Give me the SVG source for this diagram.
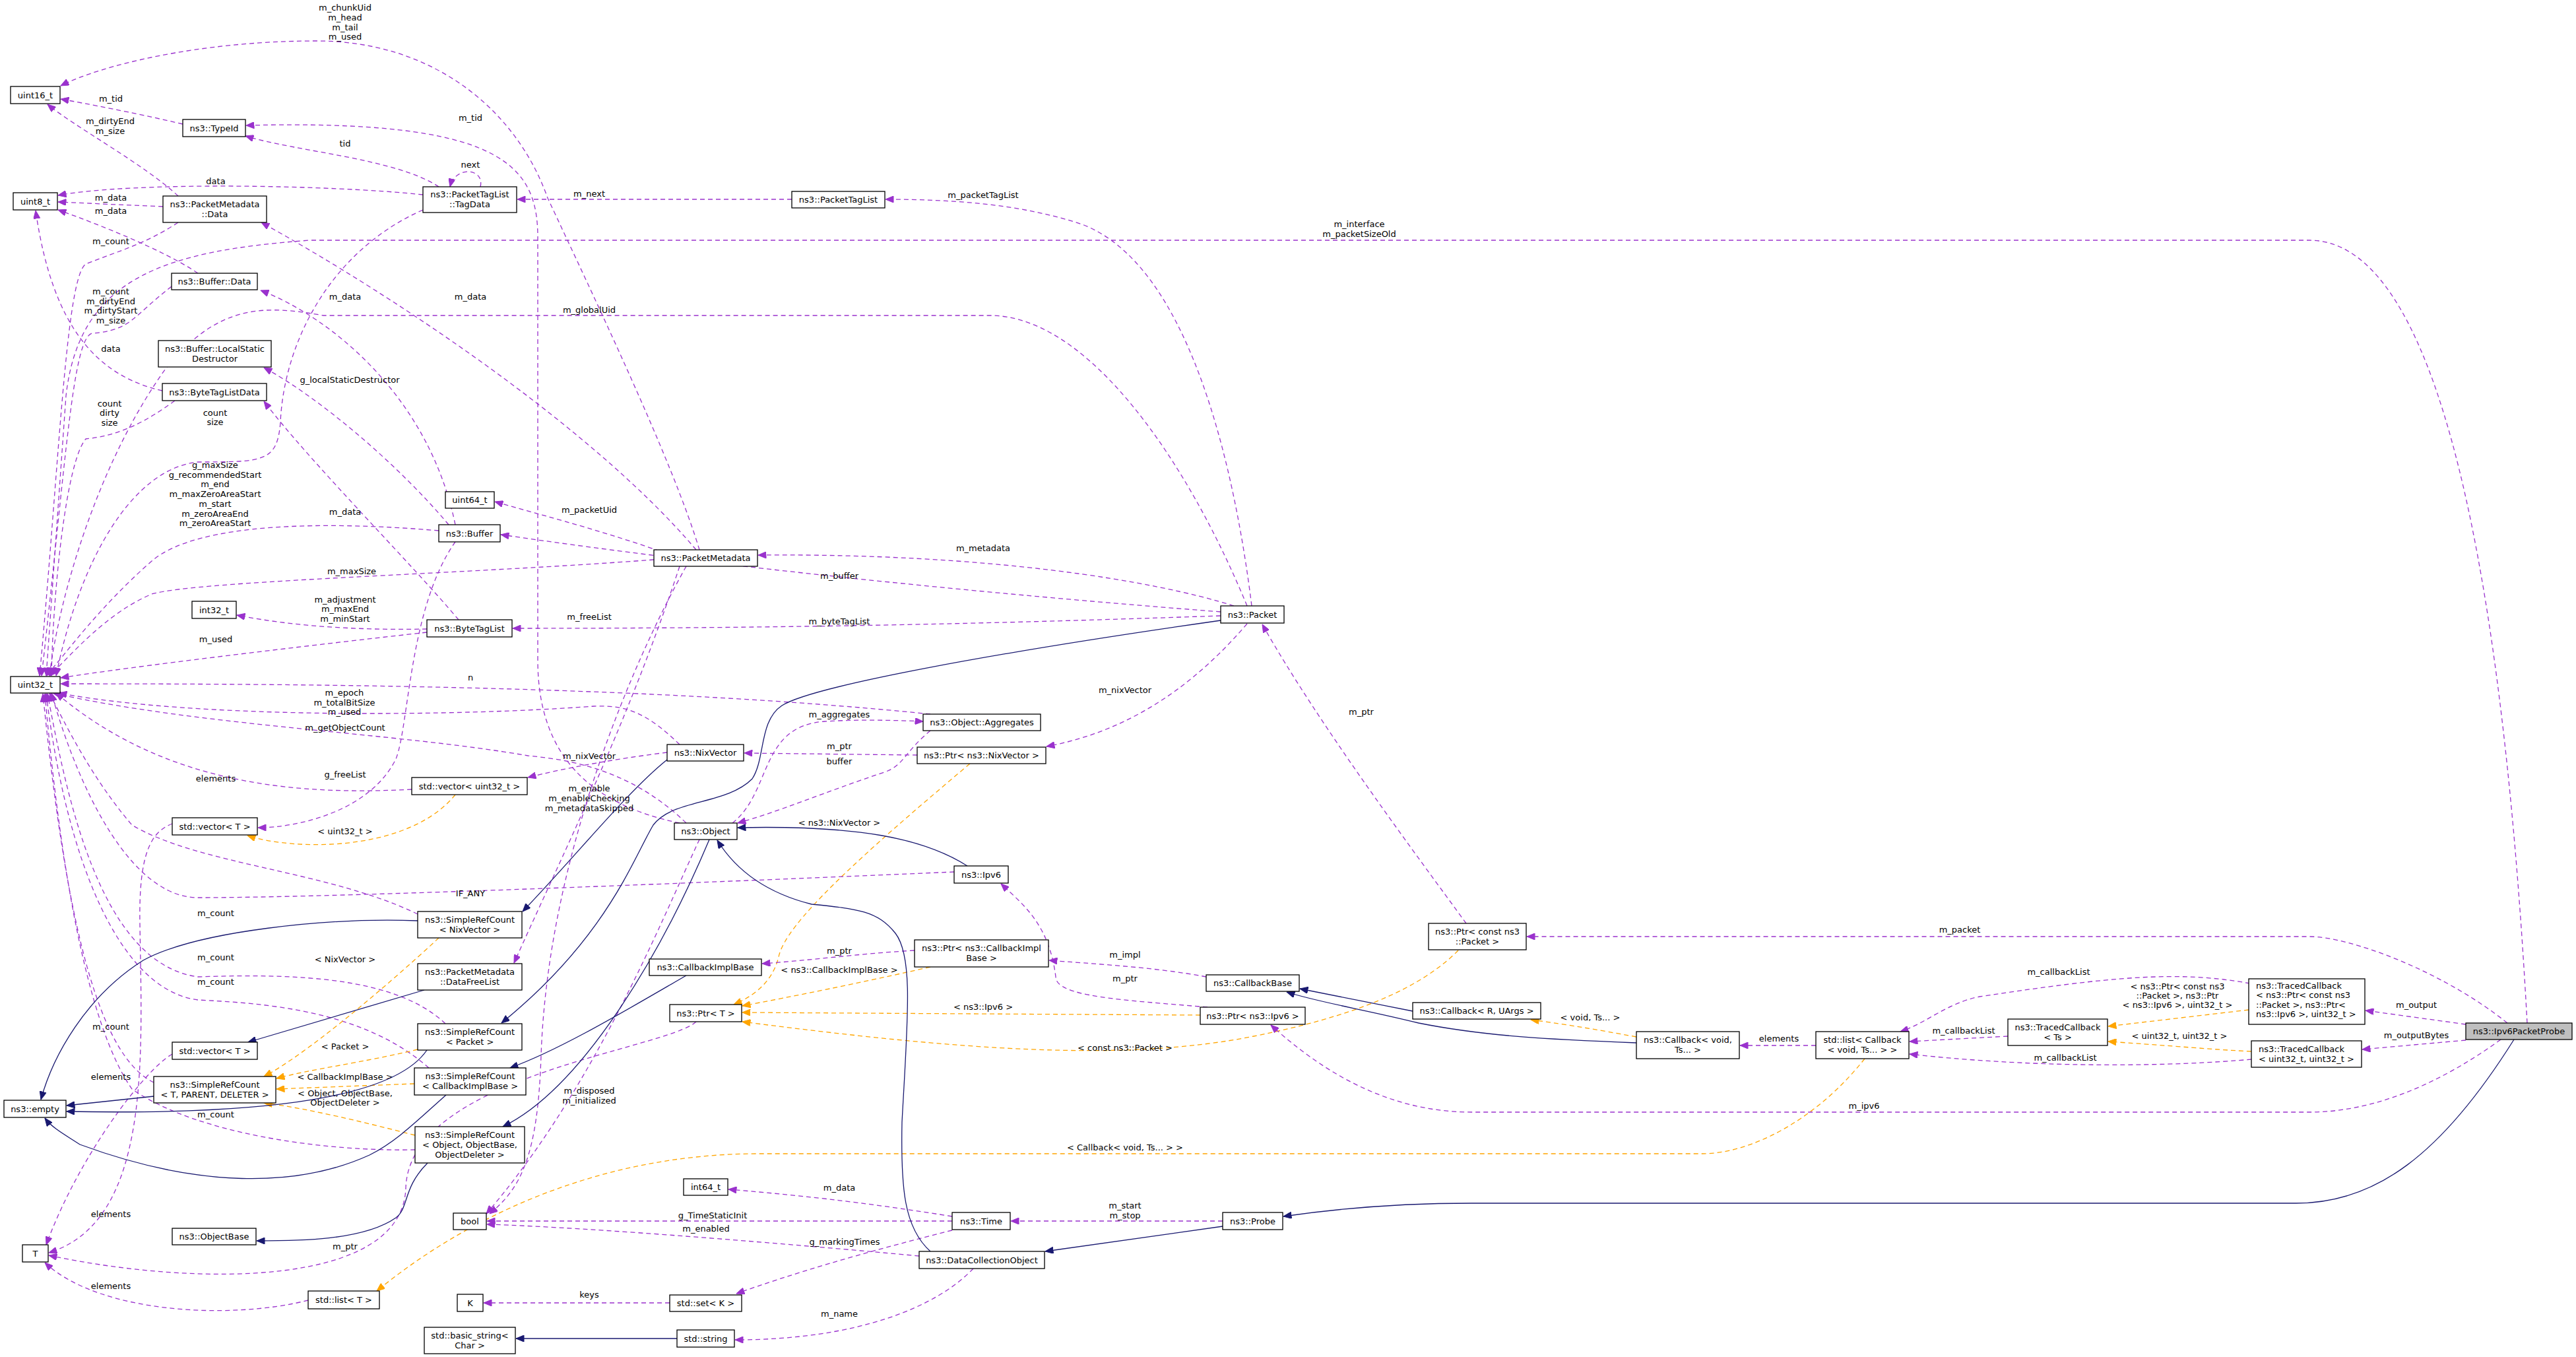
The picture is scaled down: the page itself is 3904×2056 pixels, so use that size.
<svg xmlns="http://www.w3.org/2000/svg" width="3904" height="2056" viewBox="0 0 3904 2056">
<style>
text{font-family:"DejaVu Sans","Liberation Sans",sans-serif;font-size:13px;fill:#000}
.n rect{fill:#fff;stroke:#000;stroke-width:1.3}
.n text{text-anchor:middle}
.n text.s{text-anchor:start}
.u{fill:none;stroke:#9a32cd;stroke-width:1.3;stroke-dasharray:7,5;marker-end:url(#mp)}
.o{fill:none;stroke:#ffa500;stroke-width:1.3;stroke-dasharray:7,5;marker-end:url(#mo)}
.i{fill:none;stroke:#191970;stroke-width:1.3;marker-end:url(#mi)}
.l{text-anchor:middle}
</style>
<defs>
<marker id="mp" viewBox="0 0 12 10" refX="12" refY="5" markerWidth="13" markerHeight="10" markerUnits="userSpaceOnUse" orient="auto"><path d="M0,0 L12,5 L0,10 z" fill="#9a32cd" stroke="#9a32cd"/></marker>
<marker id="mo" viewBox="0 0 12 10" refX="12" refY="5" markerWidth="13" markerHeight="10" markerUnits="userSpaceOnUse" orient="auto"><path d="M0,0 L12,5 L0,10 z" fill="#ffa500" stroke="#ffa500"/></marker>
<marker id="mi" viewBox="0 0 12 10" refX="12" refY="5" markerWidth="13" markerHeight="10" markerUnits="userSpaceOnUse" orient="auto"><path d="M0,0 L12,5 L0,10 z" fill="#191970" stroke="#191970"/></marker>
</defs>
<rect width="3904" height="2056" fill="#fff"/>
<g id="edges">
<path class="u" d="M1060,833 C1020,700 900,450 830,300 C780,160 650,62 480,62 C300,62 150,100 92,130"/>
<text class="l" x="523" y="16">m_chunkUid</text><text class="l" x="523" y="31">m_head</text><text class="l" x="523" y="46">m_tail</text><text class="l" x="523" y="60">m_used</text>
<path class="u" d="M277,188 C200,170 130,157 92,150"/><text class="l" x="168" y="154">m_tid</text>
<path class="u" d="M270,297 C220,250 110,190 72,158"/><text class="l" x="167" y="188">m_dirtyEnd</text><text class="l" x="167" y="203">m_size</text>
<path class="u" d="M1030,1247 C900,1220 815,1150 815,1000 L815,360 C815,250 760,180 373,190"/><text class="l" x="713" y="183">m_tid</text>
<path class="u" d="M665,283 C600,240 450,230 372,206"/><text class="l" x="523" y="222">tid</text>
<path class="u" d="M728,283 C735,255 690,250 682,283"/><text class="l" x="713" y="254">next</text>
<path class="u" d="M641,295 C500,280 200,275 88,296"/><text class="l" x="327" y="279">data</text>
<path class="u" d="M1200,302 L784,302"/><text class="l" x="893" y="298">m_next</text>
<path class="u" d="M247,313 L88,306"/><text class="l" x="168" y="304">m_data</text>
<path class="u" d="M300,414 C250,380 150,340 88,318"/><text class="l" x="168" y="324">m_data</text>
<path class="u" d="M246,592 C150,570 80,500 54,319"/><text class="l" x="168" y="533">data</text>
<path class="u" d="M1897,918 C1870,700 1800,400 1640,340 C1550,310 1450,302 1342,302"/><text class="l" x="1490" y="300">m_packetTagList</text>
<path class="u" d="M3830,1550 C3800,1000 3720,364 3500,364 L470,364 C250,380 120,420 100,600 L70,1024"/><text class="l" x="2060" y="344">m_interface</text><text class="l" x="2060" y="359">m_packetSizeOld</text>
<path class="u" d="M1890,918 C1800,700 1650,478 1500,478 L490,478 C400,462 330,460 250,560 C150,700 90,900 75,1024"/><text class="l" x="893" y="474">m_globalUid</text>
<path class="u" d="M1870,918 C1750,880 1500,838 1149,841"/><text class="l" x="1490" y="835">m_metadata</text>
<path class="u" d="M1850,927 C1500,900 1100,860 759,810"/><text class="l" x="1272" y="877">m_buffer</text>
<path class="u" d="M1850,933 C1500,945 1200,952 777,952"/><text class="l" x="1272" y="946">m_byteTagList</text>
<path class="u" d="M1000,835 C900,800 800,775 750,760"/><text class="l" x="893" y="777">m_packetUid</text>
<path class="u" d="M1055,833 C900,650 600,450 396,337"/><text class="l" x="713" y="454">m_data</text>
<path class="u" d="M690,795 C650,600 500,480 395,440"/><text class="l" x="523" y="454">m_data</text>
<path class="u" d="M680,795 C600,700 480,600 400,557"/><text class="l" x="530" y="580">g_localStaticDestructor</text>
<path class="u" d="M665,804 C500,790 300,790 230,850 C150,920 100,990 70,1024"/>
<text class="l" x="326" y="709">g_maxSize</text><text class="l" x="326" y="724">g_recommendedStart</text><text class="l" x="326" y="738">m_end</text><text class="l" x="326" y="753">m_maxZeroAreaStart</text><text class="l" x="326" y="768">m_start</text><text class="l" x="326" y="783">m_zeroAreaEnd</text><text class="l" x="326" y="797">m_zeroAreaStart</text>
<path class="u" d="M690,821 C620,920 620,1100 600,1150 C560,1230 450,1254 391,1254"/><text class="l" x="523" y="1178">g_freeList</text>
<path class="u" d="M695,939 C620,850 470,700 400,608"/><text class="l" x="523" y="780">m_data</text>
<path class="u" d="M647,953 C550,955 450,950 359,932"/><text class="l" x="523" y="913">m_adjustment</text><text class="l" x="523" y="927">m_maxEnd</text><text class="l" x="523" y="942">m_minStart</text>
<path class="u" d="M647,958 C450,980 200,1010 92,1027"/><text class="l" x="327" y="973">m_used</text>
<path class="u" d="M991,848 C700,870 300,880 230,900 C160,930 110,990 75,1024"/><text class="l" x="533" y="870">m_maxSize</text>
<path class="u" d="M1030,858 C950,1100 850,1300 779,1459"/><text class="l" x="893" y="939">m_freeList</text>
<path class="u" d="M1410,1082 C1000,1040 500,1036 92,1036"/><text class="l" x="713" y="1031">n</text>
<path class="u" d="M1030,1128 C980,1080 950,1068 900,1070 C700,1085 300,1090 89,1050"/><text class="l" x="522" y="1054">m_epoch</text><text class="l" x="522" y="1069">m_totalBitSize</text><text class="l" x="522" y="1083">m_used</text>
<path class="u" d="M1040,1247 C950,1160 850,1150 800,1145 C600,1110 300,1100 80,1050"/><text class="l" x="523" y="1107">m_getObjectCount</text>
<path class="u" d="M624,1196 C450,1205 250,1190 85,1050"/><text class="l" x="327" y="1184">elements</text>
<path class="o" d="M690,1204 C620,1290 450,1290 375,1266"/><text class="l" x="523" y="1264">&lt; uint32_t &gt;</text>
<path class="u" d="M1011,1140 C930,1150 850,1165 800,1178"/><text class="l" x="893" y="1150">m_nixVector</text>
<path class="u" d="M1890,945 C1800,1050 1700,1110 1586,1131"/><text class="l" x="1705" y="1050">m_nixVector</text>
<path class="u" d="M1390,1144 L1128,1141"/><text class="l" x="1272" y="1135">m_ptr</text>
<path class="u" d="M1110,1247 C1170,1200 1150,1100 1250,1093 C1300,1090 1350,1091 1399,1093"/><text class="l" x="1272" y="1087">m_aggregates</text>
<path class="u" d="M1410,1107 C1370,1140 1370,1160 1340,1170 C1250,1200 1180,1230 1118,1247"/><text class="l" x="1272" y="1158">buffer</text>
<path class="o" d="M1470,1157 C1300,1300 1190,1400 1180,1450 C1170,1490 1140,1510 1112,1522"/><text class="l" x="1272" y="1251">&lt; ns3::NixVector &gt;</text>
<path class="u" d="M1446,1321 C1000,1340 500,1360 300,1360 C200,1360 120,1200 78,1050"/><text class="l" x="713" y="1358">IF_ANY</text>
<path class="u" d="M633,1385 C500,1320 300,1310 200,1250 C140,1180 100,1100 75,1050"/><text class="l" x="327" y="1388">m_count</text>
<path class="u" d="M675,1551 C600,1480 450,1475 300,1480 C150,1460 100,1200 72,1051"/><text class="l" x="327" y="1455">m_count</text>
<path class="u" d="M650,1618 C550,1530 400,1520 300,1515 C180,1500 100,1300 70,1051"/><text class="l" x="327" y="1492">m_count</text>
<path class="u" d="M629,1742 C500,1745 300,1720 200,1650 C130,1550 90,1300 68,1051"/><text class="l" x="327" y="1693">m_count</text>
<path class="u" d="M233,1640 C150,1600 100,1400 65,1051"/><text class="l" x="168" y="1560">m_count</text>
<path class="u" d="M260,434 C200,480 200,500 140,505 C110,510 100,700 63,1024"/><text class="l" x="168" y="446">m_count</text><text class="l" x="168" y="461">m_dirtyEnd</text><text class="l" x="168" y="475">m_dirtyStart</text><text class="l" x="168" y="490">m_size</text>
<path class="u" d="M270,337 C220,370 180,380 130,400 C100,420 90,700 60,1024"/><text class="l" x="168" y="370">m_count</text>
<path class="u" d="M265,607 C220,640 180,660 130,665 C100,700 80,900 78,1024"/><text class="l" x="166" y="616">count</text><text class="l" x="166" y="630">dirty</text><text class="l" x="166" y="645">size</text>
<path class="u" d="M641,318 C500,380 430,520 425,640 C420,700 400,700 300,700 C200,710 120,850 85,1024"/><text class="l" x="326" y="630">count</text><text class="l" x="326" y="644">size</text>
<path class="u" d="M261,1597 C220,1620 120,1750 70,1886"/><text class="l" x="168" y="1636">elements</text>
<path class="u" d="M261,1248 C230,1260 210,1290 212,1400 C215,1600 230,1850 74,1898"/><text class="l" x="168" y="1844">elements</text>
<path class="u" d="M467,1970 C350,2000 150,1990 68,1913"/><text class="l" x="168" y="1953">elements</text>
<path class="u" d="M1055,1548 C1010,1590 620,1630 615,1800 C610,1950 300,1950 74,1902"/><text class="l" x="523" y="1893">m_ptr</text>
<path class="u" d="M1060,1272 C1000,1400 900,1650 737,1839"/><text class="l" x="893" y="1657">m_disposed</text><text class="l" x="893" y="1672">m_initialized</text>
<path class="u" d="M1040,858 C960,1000 830,1300 820,1600 C815,1750 790,1800 742,1839"/><text class="l" x="893" y="1199">m_enable</text><text class="l" x="893" y="1214">m_enableChecking</text><text class="l" x="893" y="1229">m_metadataSkipped</text>
<path class="u" d="M1386,1440 C1300,1445 1230,1455 1155,1460"/><text class="l" x="1272" y="1445">m_ptr</text>
<path class="o" d="M1410,1465 C1300,1490 1200,1510 1125,1524"/><text class="l" x="1272" y="1474">&lt; ns3::CallbackImplBase &gt;</text>
<path class="u" d="M1828,1480 C1750,1465 1650,1460 1590,1455"/><text class="l" x="1705" y="1451">m_impl</text>
<path class="u" d="M1830,1526 C1700,1515 1600,1510 1600,1480 C1590,1400 1550,1370 1517,1339"/><text class="l" x="1705" y="1487">m_ptr</text>
<path class="o" d="M1819,1538 L1125,1534"/><text class="l" x="1490" y="1530">&lt; ns3::Ipv6 &gt;</text>
<path class="o" d="M2210,1440 C2150,1500 2050,1540 1900,1570 C1700,1610 1450,1590 1125,1548"/><text class="l" x="1705" y="1592">&lt; const ns3::Packet &gt;</text>
<path class="u" d="M2222,1399 C2150,1300 2000,1100 1913,946"/><text class="l" x="2063" y="1083">m_ptr</text>
<path class="u" d="M3800,1550 C3700,1470 3560,1419 3500,1419 L2314,1419"/><text class="l" x="2970" y="1413">m_packet</text>
<path class="u" d="M1853,1850 L1532,1850"/><text class="l" x="1705" y="1831">m_start</text><text class="l" x="1705" y="1846">m_stop</text>
<path class="u" d="M1443,1843 C1300,1820 1200,1810 1104,1802"/><text class="l" x="1272" y="1804">m_data</text>
<path class="u" d="M1443,1850 L738,1850"/><text class="l" x="1080" y="1846">g_TimeStaticInit</text>
<path class="u" d="M1393,1903 C1200,1885 900,1860 738,1855"/><text class="l" x="1070" y="1866">m_enabled</text>
<path class="u" d="M1443,1864 C1300,1900 1200,1930 1116,1960"/><text class="l" x="1280" y="1886">g_markingTimes</text>
<path class="u" d="M1015,1974 L733,1974"/><text class="l" x="893" y="1966">keys</text>
<path class="u" d="M1475,1922 C1420,1980 1300,2030 1114,2030"/><text class="l" x="1272" y="1995">m_name</text>
<path class="o" d="M2826,1604 C2750,1700 2650,1748 2580,1748 L1150,1748 C900,1748 700,1850 571,1956"/><text class="l" x="1705" y="1743">&lt; Callback&lt; void, Ts... &gt; &gt;</text>
<path class="u" d="M2752,1584 L2637,1584"/><text class="l" x="2696" y="1578">elements</text>
<path class="o" d="M2480,1571 C2420,1560 2380,1553 2320,1545"/><text class="l" x="2410" y="1546">&lt; void, Ts... &gt;</text>
<path class="u" d="M3410,1490 C3300,1470 3200,1480 3000,1510 C2950,1520 2920,1550 2880,1563"/><text class="l" x="3120" y="1477">m_callbackList</text>
<path class="u" d="M3043,1570 L2894,1578"/><text class="l" x="2976" y="1566">m_callbackList</text>
<path class="u" d="M3412,1605 C3300,1615 3100,1620 2894,1597"/><text class="l" x="3130" y="1607">m_callbackList</text>
<path class="o" d="M3408,1530 L3195,1555"/><text class="l" x="3300" y="1499">&lt; ns3::Ptr&lt; const ns3</text><text class="l" x="3300" y="1513">::Packet &gt;, ns3::Ptr</text><text class="l" x="3300" y="1527">&lt; ns3::Ipv6 &gt;, uint32_t &gt;</text>
<path class="o" d="M3412,1593 C3350,1590 3300,1585 3195,1578"/><text class="l" x="3303" y="1574">&lt; uint32_t, uint32_t &gt;</text>
<path class="u" d="M3737,1552 L3585,1531"/><text class="l" x="3662" y="1527">m_output</text>
<path class="u" d="M3737,1576 L3580,1590"/><text class="l" x="3662" y="1573">m_outputBytes</text>
<path class="u" d="M3790,1575 C3700,1640 3600,1685 3500,1685 L2230,1685 C2100,1685 2000,1620 1926,1553"/><text class="l" x="2825" y="1680">m_ipv6</text>
<path class="o" d="M665,1421 C580,1500 460,1600 400,1631"/><text class="l" x="523" y="1458">&lt; NixVector &gt;</text>
<path class="o" d="M633,1590 C550,1610 470,1620 419,1634"/><text class="l" x="523" y="1590">&lt; Packet &gt;</text>
<path class="o" d="M628,1642 L419,1650"/><text class="l" x="523" y="1636">&lt; CallbackImplBase &gt;</text>
<path class="o" d="M629,1720 C550,1700 470,1680 400,1671"/><text class="l" x="523" y="1661">&lt; Object, ObjectBase,</text><text class="l" x="523" y="1675">ObjectDeleter &gt;</text>
<path class="i" d="M1466,1312 C1400,1270 1300,1250 1118,1254"/>
<path class="i" d="M633,1395 C500,1390 300,1410 217,1455 C130,1510 80,1600 62,1666"/>
<path class="i" d="M1011,1151 C950,1200 870,1300 792,1381"/>
<path class="i" d="M1850,940 C1500,990 1230,1040 1185,1069 C1150,1092 1160,1150 1140,1180 C1100,1220 1020,1210 990,1250 C960,1300 920,1420 760,1550"/>
<path class="i" d="M647,1591 C600,1660 420,1690 101,1684"/>
<path class="i" d="M233,1661 L101,1675"/>
<path class="i" d="M676,1659 C630,1700 600,1730 560,1750 C450,1800 300,1800 121,1734 C100,1720 80,1710 68,1694"/>
<path class="i" d="M648,1762 C610,1800 620,1830 600,1845 C550,1880 450,1880 389,1880"/>
<path class="i" d="M1075,1272 C1000,1450 880,1650 762,1707"/>
<path class="i" d="M1040,1478 C950,1530 850,1590 773,1618"/>
<path class="i" d="M643,1500 L376,1579"/>
<path class="i" d="M1853,1858 L1584,1896"/>
<path class="i" d="M3810,1575 C3700,1750 3600,1823 3480,1823 L2230,1823 C2100,1823 2000,1835 1945,1843"/>
<path class="i" d="M1410,1896 C1370,1860 1365,1800 1367,1700 C1375,1550 1385,1450 1357,1414 C1330,1380 1300,1377 1230,1370 C1150,1350 1110,1310 1087,1273"/>
<path class="i" d="M1026,2028 L782,2028"/>
<path class="i" d="M2141,1532 L1970,1498"/>
<path class="i" d="M2480,1580 C2350,1575 2250,1570 2150,1550 C2070,1530 2000,1519 1950,1503"/>
</g>
<g id="uint16_t" class="n"><rect x="16" y="131" width="75" height="26"/><text x="53.5" y="148.5">uint16_t</text></g>
<g id="TypeId" class="n"><rect x="277" y="181" width="95" height="26"/><text x="324.5" y="198.5">ns3::TypeId</text></g>
<g id="TagData" class="n"><rect x="641" y="283" width="142" height="39"/><text x="712" y="299">ns3::PacketTagList</text><text x="712" y="314">::TagData</text></g>
<g id="uint8_t" class="n"><rect x="20" y="292" width="67" height="26"/><text x="53.5" y="309.5">uint8_t</text></g>
<g id="PMData" class="n"><rect x="247" y="297" width="157" height="40"/><text x="325.5" y="314">ns3::PacketMetadata</text><text x="325.5" y="329">::Data</text></g>
<g id="BufferData" class="n"><rect x="260" y="414" width="130" height="25"/><text x="325" y="431">ns3::Buffer::Data</text></g>
<g id="LSD" class="n"><rect x="240" y="516" width="171" height="40"/><text x="325.5" y="533">ns3::Buffer::LocalStatic</text><text x="325.5" y="548">Destructor</text></g>
<g id="BTLD" class="n"><rect x="246" y="581" width="158" height="26"/><text x="325" y="598.5">ns3::ByteTagListData</text></g>
<g id="uint64_t" class="n"><rect x="675" y="745" width="74" height="25"/><text x="712" y="762">uint64_t</text></g>
<g id="Buffer" class="n"><rect x="665" y="795" width="93" height="26"/><text x="711.5" y="812.5">ns3::Buffer</text></g>
<g id="int32_t" class="n"><rect x="291" y="911" width="67" height="26"/><text x="324.5" y="928.5">int32_t</text></g>
<g id="ByteTagList" class="n"><rect x="647" y="939" width="129" height="26"/><text x="711.5" y="956.5">ns3::ByteTagList</text></g>
<g id="uint32_t" class="n"><rect x="16" y="1025" width="75" height="25"/><text x="53.5" y="1042">uint32_t</text></g>
<g id="vecU32" class="n"><rect x="624" y="1178" width="175" height="26"/><text x="711.5" y="1195.5">std::vector&lt; uint32_t &gt;</text></g>
<g id="vecT1" class="n"><rect x="261" y="1239" width="129" height="26"/><text x="325.5" y="1256.5">std::vector&lt; T &gt;</text></g>
<g id="SRCNix" class="n"><rect x="633" y="1381" width="158" height="40"/><text x="712" y="1398">ns3::SimpleRefCount</text><text x="712" y="1413">&lt; NixVector &gt;</text></g>
<g id="DFL" class="n"><rect x="633" y="1460" width="158" height="40"/><text x="712" y="1477">ns3::PacketMetadata</text><text x="712" y="1492">::DataFreeList</text></g>
<g id="SRCPacket" class="n"><rect x="633" y="1551" width="158" height="40"/><text x="712" y="1568">ns3::SimpleRefCount</text><text x="712" y="1583">&lt; Packet &gt;</text></g>
<g id="vecT2" class="n"><rect x="261" y="1579" width="129" height="26"/><text x="325.5" y="1596.5">std::vector&lt; T &gt;</text></g>
<g id="SRCT" class="n"><rect x="233" y="1631" width="185" height="40"/><text x="325.5" y="1648">ns3::SimpleRefCount</text><text x="325.5" y="1663">&lt; T, PARENT, DELETER &gt;</text></g>
<g id="SRCCIB" class="n"><rect x="628" y="1618" width="169" height="41"/><text x="712.5" y="1635">ns3::SimpleRefCount</text><text x="712.5" y="1650">&lt; CallbackImplBase &gt;</text></g>
<g id="empty" class="n"><rect x="6" y="1667" width="94" height="26"/><text x="53" y="1684.5">ns3::empty</text></g>
<g id="SRCObj" class="n"><rect x="629" y="1707" width="166" height="55"/><text x="712" y="1724">ns3::SimpleRefCount</text><text x="712" y="1739">&lt; Object, ObjectBase,</text><text x="712" y="1754">ObjectDeleter &gt;</text></g>
<g id="ObjectBase" class="n"><rect x="261" y="1861" width="127" height="25"/><text x="324.5" y="1878">ns3::ObjectBase</text></g>
<g id="bool" class="n"><rect x="687" y="1838" width="50" height="25"/><text x="712" y="1855">bool</text></g>
<g id="T" class="n"><rect x="34" y="1886" width="39" height="26"/><text x="53.5" y="1903.5">T</text></g>
<g id="listT" class="n"><rect x="467" y="1956" width="108" height="27"/><text x="521" y="1974">std::list&lt; T &gt;</text></g>
<g id="K" class="n"><rect x="693" y="1961" width="39" height="26"/><text x="712.5" y="1978.5">K</text></g>
<g id="basic_string" class="n"><rect x="643" y="2011" width="138" height="40"/><text x="712" y="2028">std::basic_string&lt;</text><text x="712" y="2043">Char &gt;</text></g>
<g id="PacketTagList" class="n"><rect x="1200" y="290" width="141" height="25"/><text x="1270.5" y="307">ns3::PacketTagList</text></g>
<g id="PacketMetadata" class="n"><rect x="991" y="833" width="157" height="25"/><text x="1069.5" y="850">ns3::PacketMetadata</text></g>
<g id="Packet" class="n"><rect x="1850" y="918" width="96" height="26"/><text x="1898" y="935.5">ns3::Packet</text></g>
<g id="Aggregates" class="n"><rect x="1399" y="1082" width="178" height="25"/><text x="1488" y="1099">ns3::Object::Aggregates</text></g>
<g id="NixVector" class="n"><rect x="1011" y="1128" width="116" height="25"/><text x="1069" y="1145">ns3::NixVector</text></g>
<g id="PtrNix" class="n"><rect x="1390" y="1132" width="195" height="25"/><text x="1487.5" y="1149">ns3::Ptr&lt; ns3::NixVector &gt;</text></g>
<g id="Object" class="n"><rect x="1022" y="1247" width="95" height="25"/><text x="1069.5" y="1264">ns3::Object</text></g>
<g id="Ipv6" class="n"><rect x="1446" y="1312" width="82" height="26"/><text x="1487" y="1329.5">ns3::Ipv6</text></g>
<g id="PtrCIB" class="n"><rect x="1386" y="1424" width="203" height="41"/><text x="1487.5" y="1441">ns3::Ptr&lt; ns3::CallbackImpl</text><text x="1487.5" y="1456">Base &gt;</text></g>
<g id="CIB" class="n"><rect x="984" y="1453" width="170" height="25"/><text x="1069" y="1470">ns3::CallbackImplBase</text></g>
<g id="PtrT" class="n"><rect x="1015" y="1522" width="109" height="26"/><text x="1069.5" y="1539.5">ns3::Ptr&lt; T &gt;</text></g>
<g id="CallbackBase" class="n"><rect x="1828" y="1477" width="141" height="25"/><text x="1898.5" y="1494">ns3::CallbackBase</text></g>
<g id="PtrIpv6" class="n"><rect x="1819" y="1526" width="159" height="26"/><text x="1898.5" y="1543.5">ns3::Ptr&lt; ns3::Ipv6 &gt;</text></g>
<g id="int64_t" class="n"><rect x="1036" y="1786" width="67" height="25"/><text x="1069.5" y="1803">int64_t</text></g>
<g id="Time" class="n"><rect x="1443" y="1837" width="88" height="26"/><text x="1487" y="1854.5">ns3::Time</text></g>
<g id="Probe" class="n"><rect x="1853" y="1837" width="91" height="26"/><text x="1898.5" y="1854.5">ns3::Probe</text></g>
<g id="DCO" class="n"><rect x="1393" y="1896" width="190" height="26"/><text x="1488" y="1913.5">ns3::DataCollectionObject</text></g>
<g id="setK" class="n"><rect x="1015" y="1962" width="109" height="25"/><text x="1069.5" y="1979">std::set&lt; K &gt;</text></g>
<g id="string" class="n"><rect x="1026" y="2015" width="87" height="26"/><text x="1069.5" y="2032.5">std::string</text></g>
<g id="PtrConstPacket" class="n"><rect x="2165" y="1399" width="148" height="40"/><text x="2239" y="1416">ns3::Ptr&lt; const ns3</text><text x="2239" y="1431">::Packet &gt;</text></g>
<g id="CallbackRU" class="n"><rect x="2141" y="1519" width="194" height="25"/><text x="2238" y="1536">ns3::Callback&lt; R, UArgs &gt;</text></g>
<g id="CallbackVoid" class="n"><rect x="2480" y="1563" width="156" height="41"/><text x="2558" y="1580">ns3::Callback&lt; void,</text><text x="2558" y="1595">Ts... &gt;</text></g>
<g id="listCallback" class="n"><rect x="2752" y="1563" width="141" height="41"/><text x="2822.5" y="1580">std::list&lt; Callback</text><text x="2822.5" y="1595">&lt; void, Ts... &gt; &gt;</text></g>
<g id="TCTs" class="n"><rect x="3043" y="1544" width="151" height="40"/><text x="3118.5" y="1561">ns3::TracedCallback</text><text x="3118.5" y="1576">&lt; Ts &gt;</text></g>
<g id="TCPtr" class="n"><rect x="3408" y="1483" width="176" height="69"/><text class="s" x="3419" y="1498">ns3::TracedCallback</text><text class="s" x="3419" y="1512">&lt; ns3::Ptr&lt; const ns3</text><text class="s" x="3419" y="1527">::Packet &gt;, ns3::Ptr&lt;</text><text class="s" x="3419" y="1541"> ns3::Ipv6 &gt;, uint32_t &gt;</text></g>
<g id="TCU" class="n"><rect x="3412" y="1577" width="167" height="40"/><text class="s" x="3423" y="1594">ns3::TracedCallback</text><text class="s" x="3423" y="1609">&lt; uint32_t, uint32_t &gt;</text></g>
<g id="Ipv6PacketProbe" class="n"><rect x="3737" y="1550" width="161" height="25" style="fill:#bfbfbf"/><text x="3817.5" y="1567">ns3::Ipv6PacketProbe</text></g>
</svg>
